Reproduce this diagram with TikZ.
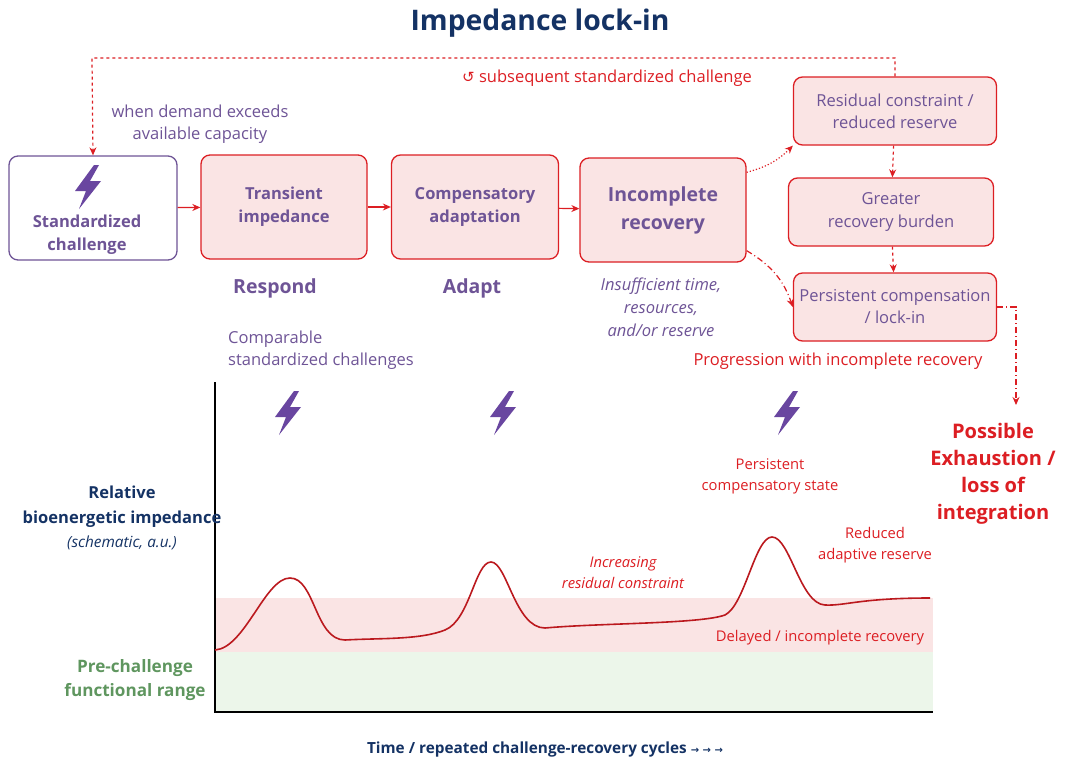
\documentclass[tikz,border=0pt]{standalone}
\usepackage{fontspec}
\setmainfont{Open Sans}[Scale=1.18]
\newfontfamily\symf{DejaVu Sans}
\usetikzlibrary{arrows.meta}
\definecolor{pur}{RGB}{110,84,150}
\definecolor{rd}{RGB}{220,30,35}
\definecolor{pk}{RGB}{250,228,228}
\definecolor{navy}{RGB}{20,50,100}
\definecolor{gr}{RGB}{95,150,95}
\definecolor{lgr}{RGB}{236,246,234}
\definecolor{bolt}{RGB}{105,70,160}
\begin{document}
\begin{tikzpicture}[x=1pt,y=-1pt,
 box/.style={draw=rd,fill=pk,line width=1.3pt,rounded corners=9pt,align=center,text=pur,font=\fontsize{14}{22}\selectfont},
 bbox/.style={box,font=\bfseries\fontsize{14}{22}\selectfont},
 arr/.style={-{Stealth[length=8pt,width=7pt]},rd,line width=1.2pt},
 lab/.style={text=pur,align=center,font=\fontsize{14}{22}\selectfont},
 pics/bolt/.style={code={\fill[bolt] (7,-22)--(-12,4)--(-1,4)--(-8,22)--(14,-6)--(3,-6)--(12,-22)--cycle;}}]
\useasboundingbox (0,0) rectangle (1076,779);
\node[text=navy,font=\bfseries\fontsize{24}{30}\selectfont] (title) at (540,23) {Impedance lock-in};
% boxes
\node[box,draw=pur,fill=white,minimum width=168pt,minimum height=104pt] (sc) at (93,208) {};
\pic at (87,187) {bolt};
\node[text=pur,font=\bfseries\fontsize{14}{23}\selectfont,align=center] (sct) at (87,235) {Standardized\\challenge};
\node[bbox,minimum width=166pt,minimum height=104pt,font=\bfseries\fontsize{14}{23}\selectfont] (ti) at (284,207) {Transient\\impedance};
\node[bbox,minimum width=167pt,minimum height=104pt,font=\bfseries\fontsize{14}{23}\selectfont] (ca) at (475,207) {Compensatory\\adaptation};
\node[bbox,minimum width=166pt,minimum height=104pt,font=\bfseries\fontsize{16.5}{28}\selectfont] (ir) at (663,210) {Incomplete\\recovery};
\node[box,minimum width=203pt,minimum height=68pt] (rc) at (895,111) {Residual constraint /\\reduced reserve};
\node[box,minimum width=205pt,minimum height=68pt] (gb) at (891,212) {Greater\\recovery burden};
\node[box,minimum width=203pt,minimum height=68pt,inner sep=1pt] (pc) at (895,307) {Persistent compensation\\/ lock-in};
\draw[arr] (sc) -- (ti);
\draw[arr] (ti) -- (ca);
\draw[arr] (ca) -- (ir);
\draw[arr,dotted] (ir.north east)+(0,15) to[bend right=15] (rc.south west);
\draw[arr,dash pattern=on 6pt off 3pt on 1pt off 3pt] (ir.south east)+(0,-12) to[bend left=20] (pc.west);
\draw[arr,dashed] (rc) -- (gb);
\draw[arr,dashed] (gb) -- (pc);
\coordinate (ex) at (1016,405);
\draw[arr,dash pattern=on 6pt off 3pt on 1pt off 3pt] (pc.east) -- (1016,307) -- (ex);
\draw[arr,dashed] (rc.north) -- (895,58) -- (92,58) -- (sc.north);
\node[text=rd,font=\fontsize{14}{19}\selectfont] (sub) at (607,78) {{\symf\fontsize{15}{15}\selectfont ↺} subsequent standardized challenge};
\node[lab] (wd) at (200,124) {when demand exceeds\\available capacity};
\node[text=pur,font=\bfseries\fontsize{16.5}{22}\selectfont] (resp) at (275,288) {Respond};
\node[text=pur,font=\bfseries\fontsize{16.5}{22}\selectfont] (adapt) at (472,288) {Adapt};
\node[lab,font=\itshape\fontsize{14}{23}\selectfont] (ins) at (661,307) {Insufficient time,\\resources,\\and/or reserve};
\node[lab,align=left,anchor=west] (comp) at (224,350) {Comparable\\standardized challenges};
\node[text=rd,font=\fontsize{14}{19}\selectfont] (prog) at (838,361) {Progression with incomplete recovery};
\node[text=rd,font=\bfseries\fontsize{17}{27}\selectfont,align=center] (exh) at (993,474) {Possible\\Exhaustion /\\loss of\\integration};
% plot
\fill[lgr] (215,652) rectangle (933,712);
\fill[pk] (215,598) rectangle (933,652);
\draw[black,line width=1.5pt] (215,382) -- (215,712) -- (933,712);
\pic at (287,413) {bolt};
\pic at (502,413) {bolt};
\pic at (786,413) {bolt};
\draw[rd!85!black,line width=1.6pt] (215,650) .. controls (245,648) and (265,578) .. (290,578)
 .. controls (315,578) and (315,640) .. (345,640) .. controls (380,638) and (420,640) .. (445,630)
 .. controls (470,620) and (475,562) .. (491,562) .. controls (507,562) and (515,628) .. (545,628)
 .. controls (600,623) and (700,624) .. (725,615) .. controls (745,605) and (755,537) .. (772,537)
 .. controls (790,537) and (800,604) .. (825,605) .. controls (845,606) and (860,598) .. (930,598);
\node[align=center,text=navy,font=\bfseries\fontsize{14}{25}\selectfont] (yl) at (122,507) {Relative\\bioenergetic impedance};
\node[text=navy,font=\itshape\fontsize{13}{19}\selectfont] (yl2) at (122,543) {(schematic, a.u.)};
\node[align=center,text=gr,font=\bfseries\fontsize{14.5}{24}\selectfont] (pre) at (135,680) {Pre-challenge\\functional range};
\node[text=navy,font=\bfseries\fontsize{13}{19}\selectfont] (xl) at (545,750) {Time / repeated challenge-recovery cycles {\symf\fontsize{10}{12}\selectfont → → →}};
\node[text=rd,align=center,font=\fontsize{12.5}{21}\selectfont] (pcs) at (770,476) {Persistent\\compensatory state};
\node[text=rd,align=center,font=\fontsize{12.5}{21}\selectfont] (rar) at (875,545) {Reduced\\adaptive reserve};
\node[text=rd,align=center,font=\itshape\fontsize{12.5}{21}\selectfont] (irc) at (623,573) {Increasing\\residual constraint};
\node[text=rd,font=\fontsize{12.5}{17}\selectfont] (dir) at (820,638) {Delayed / incomplete recovery};
\end{tikzpicture}
\end{document}
